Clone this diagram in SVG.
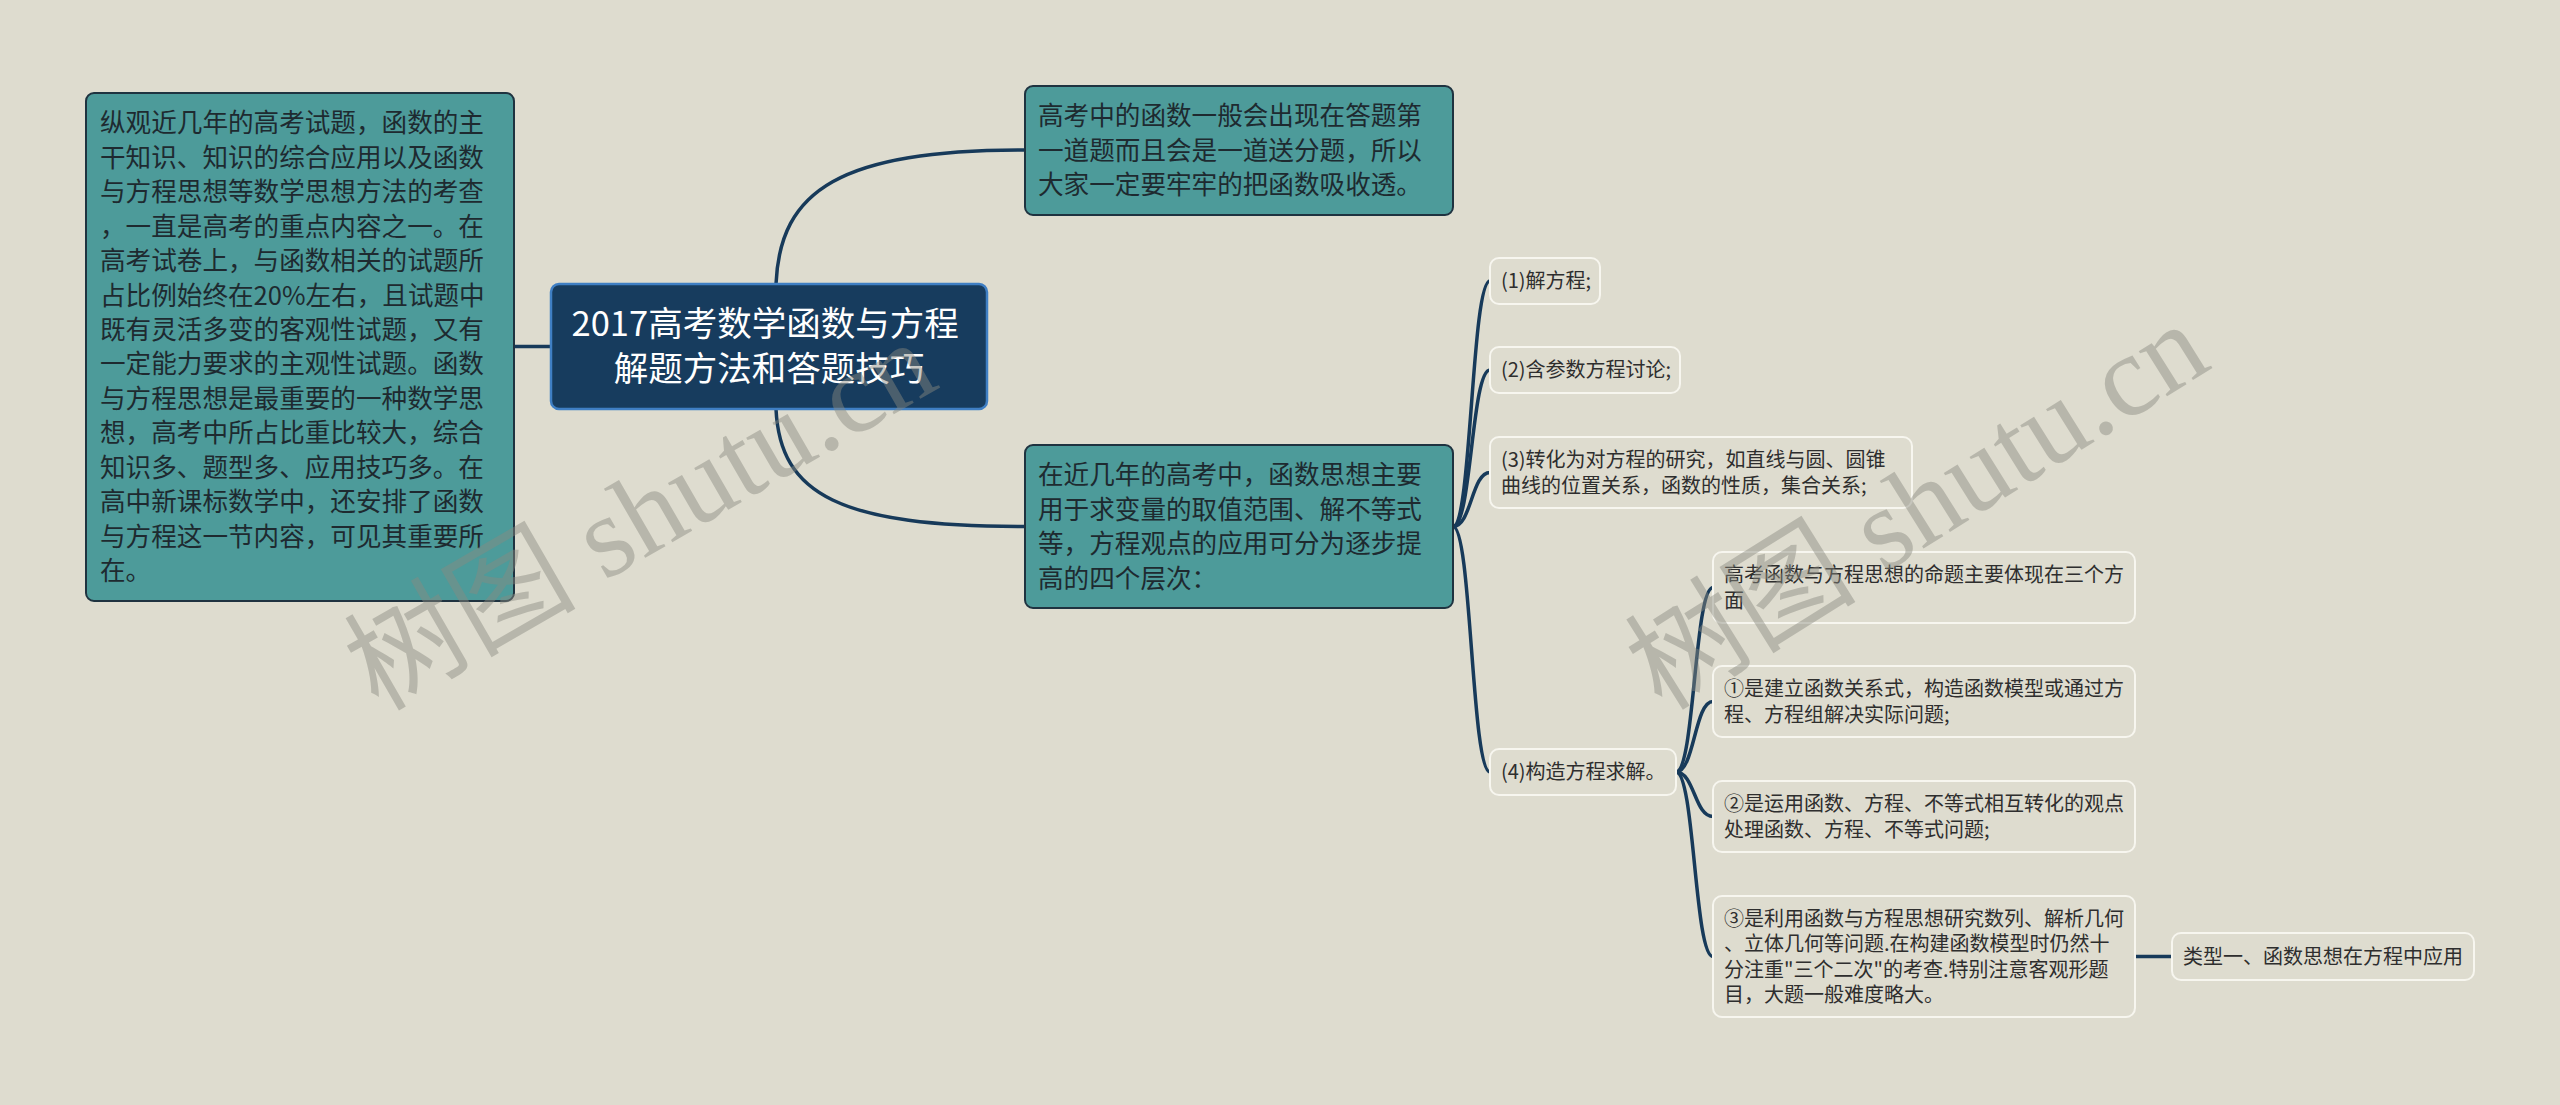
<svg xmlns="http://www.w3.org/2000/svg" width="2560" height="1105" viewBox="0 0 2560 1105">
<style>
.bg{fill:#dedccf}
.edge{fill:none;stroke:#173a5a;stroke-width:3.5;stroke-linecap:round}
.root rect{fill:#173c5e;stroke:#3f7fc4;stroke-width:2.5}
.root text{fill:#ffffff;font-size:34.5px;text-anchor:middle}
.main rect{fill:#4d9b9a;stroke:#1f3340;stroke-width:2}
.main text{fill:#1e2a30;font-size:25.6px}
.sub rect{fill:#dedccf;stroke:#f7f6ef;stroke-width:2}
.sub text{fill:#2e2e2e;font-size:20px}
text{font-family:"Microsoft YaHei","Noto Sans CJK SC","Noto Sans",sans-serif}
.wm{font-family:"Liberation Serif","Noto Sans CJK SC",serif;font-size:116px;fill:#8a8a80;opacity:0.45}
</style>
<rect class="bg" x="0" y="0" width="2560" height="1105"/>
<g id="connectors">
<path class="edge" d="M514,346.5 L551,346.5"/>
<path class="edge" d="M776,284 C780,190 840,150 1025,150"/>
<path class="edge" d="M776,409 C780,495 840,526.5 1025,526.5"/>
<path class="edge" d="M1453,526.5 C1471.5,526.5 1471.5,281 1490,281"/>
<path class="edge" d="M1453,526.5 C1471.5,526.5 1471.5,370 1490,370"/>
<path class="edge" d="M1453,526.5 C1471.5,526.5 1471.5,472.5 1490,472.5"/>
<path class="edge" d="M1453,526.5 C1471.5,526.5 1471.5,772 1490,772"/>
<path class="edge" d="M1676,772 C1694.5,772 1694.5,587.5 1713,587.5"/>
<path class="edge" d="M1676,772 C1694.5,772 1694.5,701.5 1713,701.5"/>
<path class="edge" d="M1676,772 C1694.5,772 1694.5,816.5 1713,816.5"/>
<path class="edge" d="M1676,772 C1694.5,772 1694.5,956.5 1713,956.5"/>
<path class="edge" d="M2135,956.5 L2172,956.5"/>
</g>
<g id="node-left" class="main">
<rect x="86" y="93" width="428" height="508" rx="8"/>
<text x="100">
<tspan x="100" y="132.2">纵观近几年的高考试题，函数的主</tspan>
<tspan x="100" y="166.7">干知识、知识的综合应用以及函数</tspan>
<tspan x="100" y="201.1">与方程思想等数学思想方法的考查</tspan>
<tspan x="100" y="235.6">，一直是高考的重点内容之一。在</tspan>
<tspan x="100" y="270">高考试卷上，与函数相关的试题所</tspan>
<tspan x="100" y="304.5">占比例始终在20%左右，且试题中</tspan>
<tspan x="100" y="339">既有灵活多变的客观性试题，又有</tspan>
<tspan x="100" y="373.4">一定能力要求的主观性试题。函数</tspan>
<tspan x="100" y="407.9">与方程思想是最重要的一种数学思</tspan>
<tspan x="100" y="442.3">想，高考中所占比重比较大，综合</tspan>
<tspan x="100" y="476.8">知识多、题型多、应用技巧多。在</tspan>
<tspan x="100" y="511.3">高中新课标数学中，还安排了函数</tspan>
<tspan x="100" y="545.7">与方程这一节内容，可见其重要所</tspan>
<tspan x="100" y="580.2">在。</tspan>
</text>
</g>
<g id="node-root" class="root">
<rect x="551" y="284" width="436" height="125" rx="8"/>
<text x="769">
<tspan x="769" y="336.4">2017高考数学函数与方程</tspan>
<tspan x="769" y="381.4">解题方法和答题技巧</tspan>
</text>
</g>
<g id="node-top" class="main">
<rect x="1025" y="86" width="428" height="129" rx="8"/>
<text>
<tspan x="1038" y="125.2">高考中的函数一般会出现在答题第</tspan>
<tspan x="1038" y="159.7">一道题而且会是一道送分题，所以</tspan>
<tspan x="1038" y="194.2">大家一定要牢牢的把函数吸收透。</tspan>
</text>
</g>
<g id="node-levels" class="main">
<rect x="1025" y="445" width="428" height="163" rx="8"/>
<text>
<tspan x="1038" y="484.2">在近几年的高考中，函数思想主要</tspan>
<tspan x="1038" y="518.7">用于求变量的取值范围、解不等式</tspan>
<tspan x="1038" y="553.2">等，方程观点的应用可分为逐步提</tspan>
<tspan x="1038" y="587.7">高的四个层次：</tspan>
</text>
</g>
<g id="node-1" class="sub">
<rect x="1490" y="258" width="110" height="46" rx="9"/>
<text x="1501" y="288.2">(1)解方程;</text>
</g>
<g id="node-2" class="sub">
<rect x="1490" y="347" width="190" height="46" rx="9"/>
<text x="1501" y="377.2">(2)含参数方程讨论;</text>
</g>
<g id="node-3" class="sub">
<rect x="1490" y="437" width="422" height="71" rx="9"/>
<text>
<tspan x="1501" y="467">(3)转化为对方程的研究，如直线与圆、圆锥</tspan>
<tspan x="1501" y="492.5">曲线的位置关系，函数的性质，集合关系;</tspan>
</text>
</g>
<g id="node-4" class="sub">
<rect x="1490" y="749" width="186" height="46" rx="9"/>
<text x="1501" y="779.2">(4)构造方程求解。</text>
</g>
<g id="node-a" class="sub">
<rect x="1713" y="552" width="422" height="71" rx="9"/>
<text>
<tspan x="1724" y="582">高考函数与方程思想的命题主要体现在三个方</tspan>
<tspan x="1724" y="607.5">面</tspan>
</text>
</g>
<g id="node-b" class="sub">
<rect x="1713" y="666" width="422" height="71" rx="9"/>
<text>
<tspan x="1724" y="696">①是建立函数关系式，构造函数模型或通过方</tspan>
<tspan x="1724" y="721.5">程、方程组解决实际问题;</tspan>
</text>
</g>
<g id="node-c" class="sub">
<rect x="1713" y="781" width="422" height="71" rx="9"/>
<text>
<tspan x="1724" y="811">②是运用函数、方程、不等式相互转化的观点</tspan>
<tspan x="1724" y="836.5">处理函数、方程、不等式问题;</tspan>
</text>
</g>
<g id="node-d" class="sub">
<rect x="1713" y="896" width="422" height="121" rx="9"/>
<text>
<tspan x="1724" y="925.5">③是利用函数与方程思想研究数列、解析几何</tspan>
<tspan x="1724" y="951">、立体几何等问题.在构建函数模型时仍然十</tspan>
<tspan x="1724" y="976.5">分注重"三个二次"的考查.特别注意客观形题</tspan>
<tspan x="1724" y="1002">目，大题一般难度略大。</tspan>
</text>
</g>
<g id="node-e" class="sub">
<rect x="2172" y="933" width="302" height="47" rx="9"/>
<text x="2183" y="963.7">类型一、函数思想在方程中应用</text>
</g>
<g id="watermarks">
<text class="wm" transform="translate(378,712) rotate(-30)">树图 shutu.cn</text>
<text class="wm" transform="translate(1662,712) rotate(-32)">树图 shutu.cn</text>
</g>
</svg>
